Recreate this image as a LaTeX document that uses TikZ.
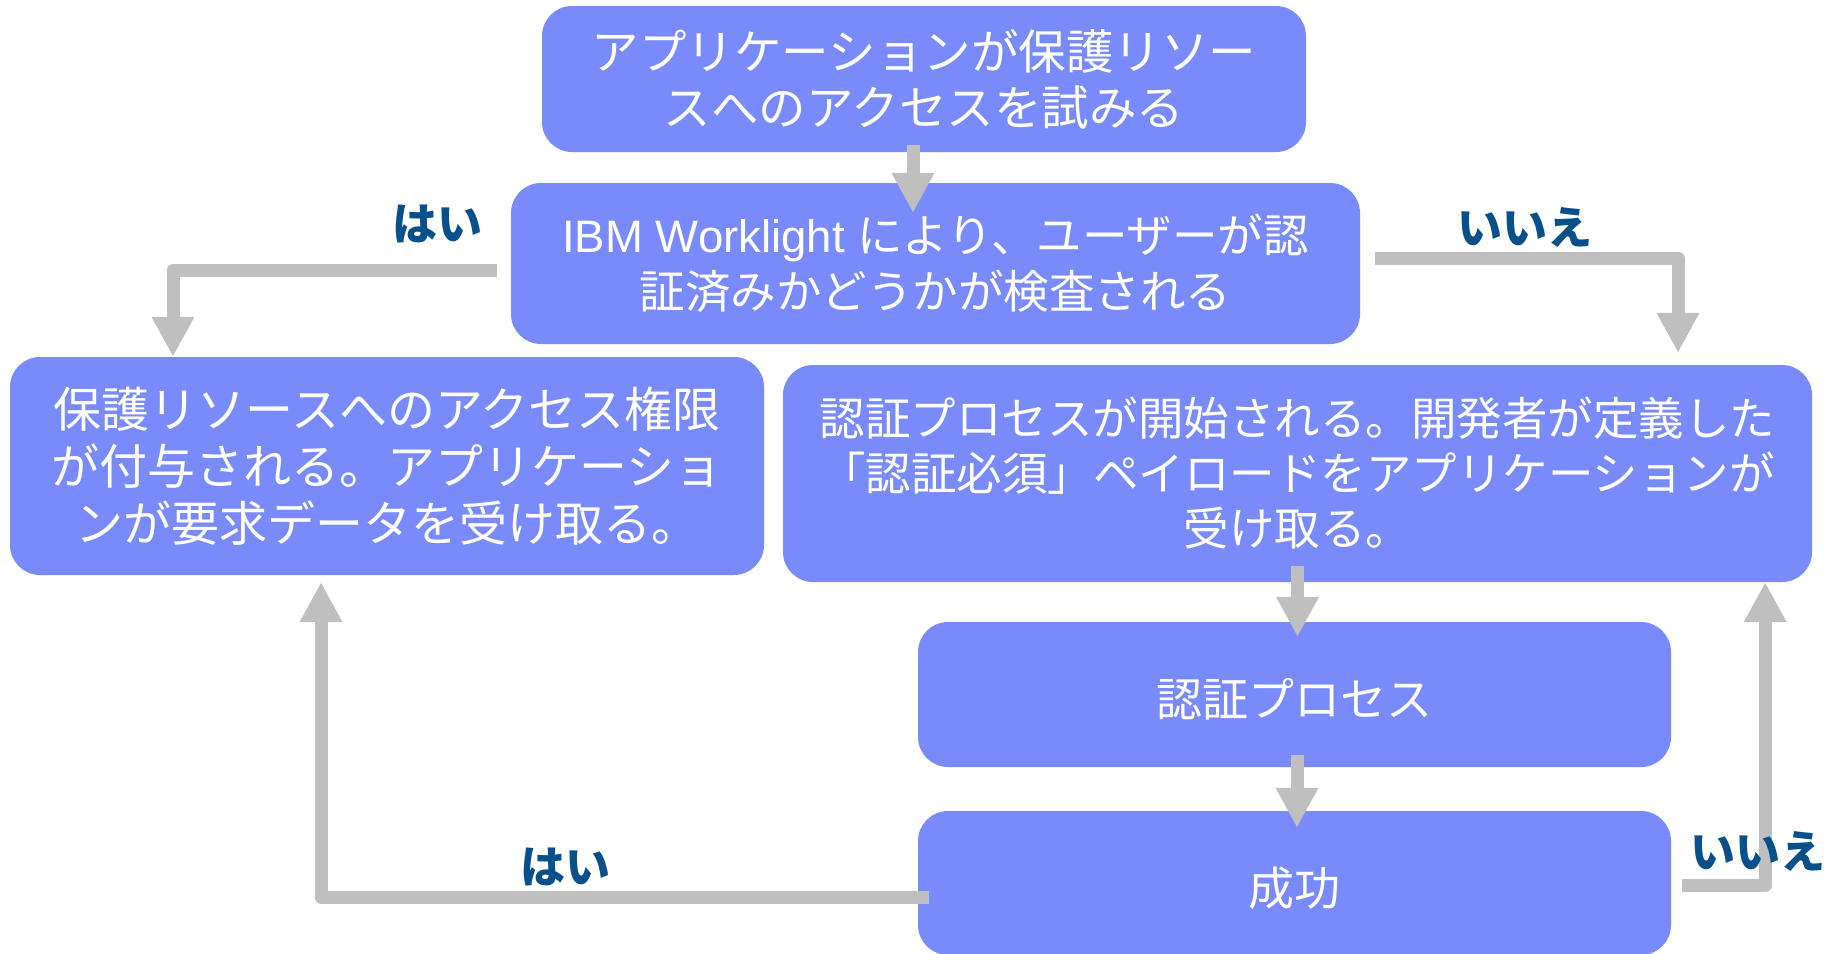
\documentclass[tikz,border=0pt]{standalone}
\usepackage{fontspec}
\setmainfont{Noto Sans CJK JP}
\newfontfamily\latinfont{Liberation Sans}
\usetikzlibrary{arrows.meta,calc}
\definecolor{boxblue}{RGB}{121,139,250}
\definecolor{arrowgray}{RGB}{191,191,191}
\definecolor{labelblue}{RGB}{8,80,140}
\tikzset{
  box/.style={fill=boxblue, rounded corners=30pt, text=white, align=center, inner sep=0pt,
    execute at begin node={\rule{0pt}{48pt}}},
  arr/.style={draw=arrowgray, line width=13pt, line join=round, -{Triangle[width=40pt,length=40pt]}},
  lbl/.style={text=labelblue, font=\fontsize{45}{50}\selectfont\bfseries, inner sep=0pt},
}
\begin{document}
\begin{tikzpicture}[x=1pt,y=-1pt]
\useasboundingbox (0,0) rectangle (1841,953);
% boxes
\node[box, minimum width=764pt, minimum height=146pt, font=\fontsize{47.5}{56}\selectfont] (b1) at (924,79)
  {アプリケーションが保護リソー\\スへのアクセスを試みる};
\node[box, minimum width=849pt, minimum height=161pt, font=\fontsize{45.5}{56}\selectfont] (b2) at (935.5,263.5)
  {{\latinfont IBM Worklight }により、ユーザーが認\\証済みかどうかが検査される};
\node[box, minimum width=754pt, minimum height=218pt, font=\fontsize{48}{57}\selectfont] (b3) at (387,466)
  {保護リソースへのアクセス権限\\が付与される。アプリケーショ\\ンが要求データを受け取る。};
\node[box, minimum width=1029pt, minimum height=217pt, font=\fontsize{45.5}{55}\selectfont] (b4) at (1297.5,473.5)
  {認証プロセスが開始される。開発者が定義した\\「認証必須」ペイロードをアプリケーションが\\受け取る。};
\node[box, minimum width=753pt, minimum height=145pt, font=\fontsize{46}{56}\selectfont] (b5) at (1294.5,694.5)
  {認証プロセス};
\node[box, minimum width=753pt, minimum height=144pt, font=\fontsize{46}{56}\selectfont] (b6) at (1294.5,883)
  {成功};
% connectors
\draw[arr] ($(b1.south)+(-11,-7)$) -- ($(b1.south |- b2.north)+(-11,30)$);
\draw[arr] ($(b2.west)+(-14,6.5)$) -| ($(b3.north)+(-214,0)$);
\draw[arr] ($(b2.east)+(15,-5.5)$) -| ($(b4.north)+(380.5,-12)$);
\draw[arr] ($(b4.south)+(0,-16)$) -- ($(b4.south |- b5.north)+(0,15)$);
\draw[arr] ($(b5.south)+(2.5,-12)$) -- ($(b5.south |- b6.north)+(2.5,17)$);
\draw[arr] ($(b6.west)+(11,14)$) -| ($(b3.south)+(-66,7)$);
\draw[arr] ($(b6.east)+(11,2)$) -| ($(b4.south east)+(-47,0)$);
% labels
\node[lbl] (l1) at (437,224) {はい};
\node[lbl] (l2) at (1525,228) {いいえ};
\node[lbl] (l3) at (565,867) {はい};
\node[lbl] (l4) at (1758,852) {いいえ};
\end{tikzpicture}
\end{document}
